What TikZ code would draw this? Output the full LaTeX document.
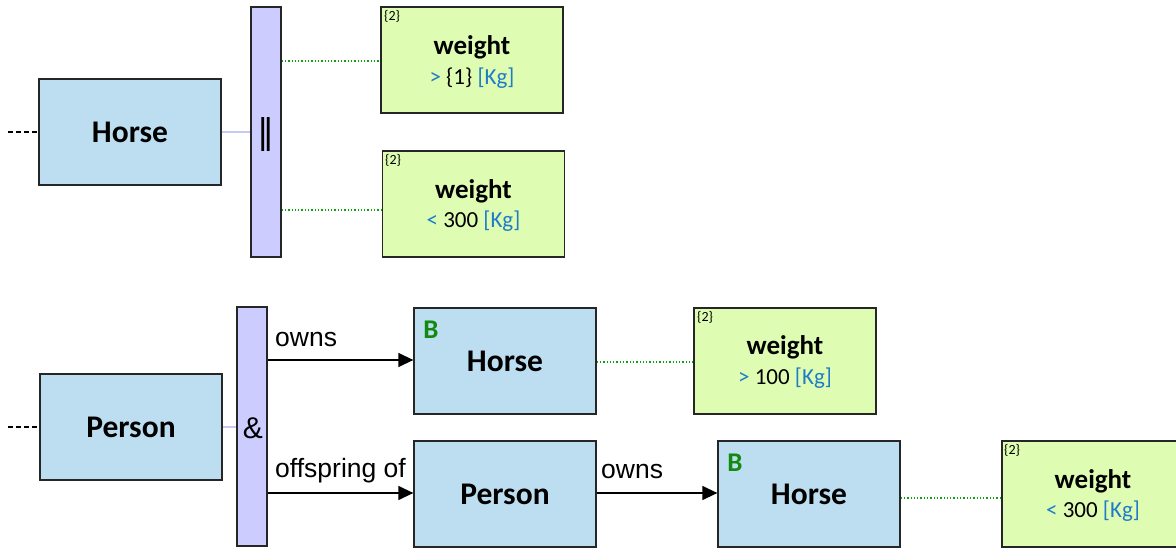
\documentclass[tikz,border=0pt]{standalone}
\usepackage{fontspec}
\setmainfont{Carlito}
\newfontfamily\arialf{Liberation Sans}
\newfontfamily\dejavu{DejaVu Sans}
\usetikzlibrary{arrows.meta}
\definecolor{clsfill}{HTML}{BDDDF0}
\definecolor{attrfill}{HTML}{DFFCB3}
\definecolor{barfill}{HTML}{CCCCFF}
\definecolor{valblue}{HTML}{1E7CC8}
\definecolor{bgreen}{HTML}{128A12}
\definecolor{dotgreen}{HTML}{10A010}
\definecolor{lavline}{HTML}{C8C8F4}
\tikzset{
  clsbox/.style={draw=black!85, line width=1.3pt, fill=clsfill, minimum width=182pt, minimum height=106pt, inner sep=0pt, font=\bfseries\fontsize{31.5}{33}\selectfont},
  attrbox/.style={draw=black!85, line width=1.3pt, fill=attrfill, minimum width=182pt, minimum height=106pt, inner sep=0pt},
  barbox/.style={draw=black!85, line width=1.3pt, fill=barfill, minimum width=30pt, inner sep=0pt},
  attrname/.style={font=\bfseries\fontsize{27}{29}\selectfont},
  attrval/.style={font=\fontsize{23}{25}\selectfont},
  mult/.style={font=\fontsize{14}{15}\selectfont, anchor=north west, inner sep=0pt},
  bmark/.style={font=\bfseries\fontsize{27}{29}\selectfont, text=bgreen},
  rellabel/.style={font=\arialf\fontsize{26.5}{28}\selectfont, anchor=west, inner sep=0pt},
  dotconn/.style={draw=dotgreen, line width=1.3pt, dotted},
  lavconn/.style={draw=lavline, line width=1.5pt},
  arrconn/.style={draw=black, line width=1.3pt, -{Triangle[length=15pt,width=14pt]}},
  inherit/.style={draw=black, line width=1.2pt, dash pattern=on 5pt off 3pt}
}
\begin{document}
\begin{tikzpicture}[x=1pt,y=-1pt]
\useasboundingbox (0,0) rectangle (1176,548);
% ---------- top part ----------
\node[clsbox] (h1) at (130,132) {Horse};
\node[barbox, minimum height=250pt] (b1) at (266,132) {};
\node[font=\dejavu\fontsize{34}{36}\selectfont] (b1s) at (266,135) {‖};
\node[attrbox] (w1) at (472,60) {};
\node[attrbox] (w2) at (473.5,204) {};
\node[mult] (w1m) at (384,10) {\{2\}};
\node[mult] (w2m) at (385,154) {\{2\}};
\node[attrname] (w1n) at (472,47) {weight};
\node[attrval] (w1v) at (472,78) {\textcolor{valblue}{>} \{1\} \textcolor{valblue}{[Kg]}};
\node[attrname] (w2n) at (473.5,191) {weight};
\node[attrval] (w2v) at (473.5,221) {\textcolor{valblue}{<} 300 \textcolor{valblue}{[Kg]}};
\coordinate (d1) at (8,132);
\draw[inherit] (d1) -- (h1.west);
\draw[lavconn] (h1.east) -- (b1.west);
\draw[dotconn] (b1.east |- 0,61) -- (w1.west |- 0,61);
\draw[dotconn] (b1.east |- 0,210) -- (w2.west |- 0,210);
% ---------- bottom part ----------
\node[clsbox] (p1) at (131,427) {Person};
\node[barbox, minimum height=239pt] (b2) at (252,426.5) {};
\node[font=\arialf\fontsize{30}{32}\selectfont] (b2s) at (253,428) {\&};
\node[clsbox] (hb1) at (505,361) {Horse};
\node[bmark] (hb1b) at (431,330) {B};
\node[attrbox] (w3) at (785,361) {};
\node[mult] (w3m) at (697,311) {\{2\}};
\node[attrname] (w3n) at (785,347) {weight};
\node[attrval] (w3v) at (785,378) {\textcolor{valblue}{>} 100 \textcolor{valblue}{[Kg]}};
\node[clsbox] (p2) at (505,494) {Person};
\node[clsbox] (hb2) at (809,494) {Horse};
\node[bmark] (hb2b) at (735,463) {B};
\node[attrbox] (w4) at (1093,494) {};
\node[mult] (w4m) at (1004,444) {\{2\}};
\node[attrname] (w4n) at (1093,481) {weight};
\node[attrval] (w4v) at (1093,511) {\textcolor{valblue}{<} 300 \textcolor{valblue}{[Kg]}};
\coordinate (d2) at (8,427);
\draw[inherit] (d2) -- (p1.west);
\draw[lavconn] (p1.east) -- (b2.west |- p1.east);
\draw[arrconn] (b2.east |- 0,360) -- (hb1.west |- 0,360);
\draw[arrconn] (b2.east |- 0,493) -- (p2.west |- 0,493);
\draw[arrconn] (p2.east |- 0,493) -- (hb2.west |- 0,493);
\draw[dotconn] (hb1.east |- 0,362) -- (w3.west |- 0,362);
\draw[dotconn] (hb2.east |- 0,498) -- (w4.west |- 0,498);
\node[rellabel] (l1) at (275,339) {owns};
\node[rellabel] (l2) at (275,471) {offspring of};
\node[rellabel] (l3) at (601,471) {owns};
\end{tikzpicture}
\end{document}
